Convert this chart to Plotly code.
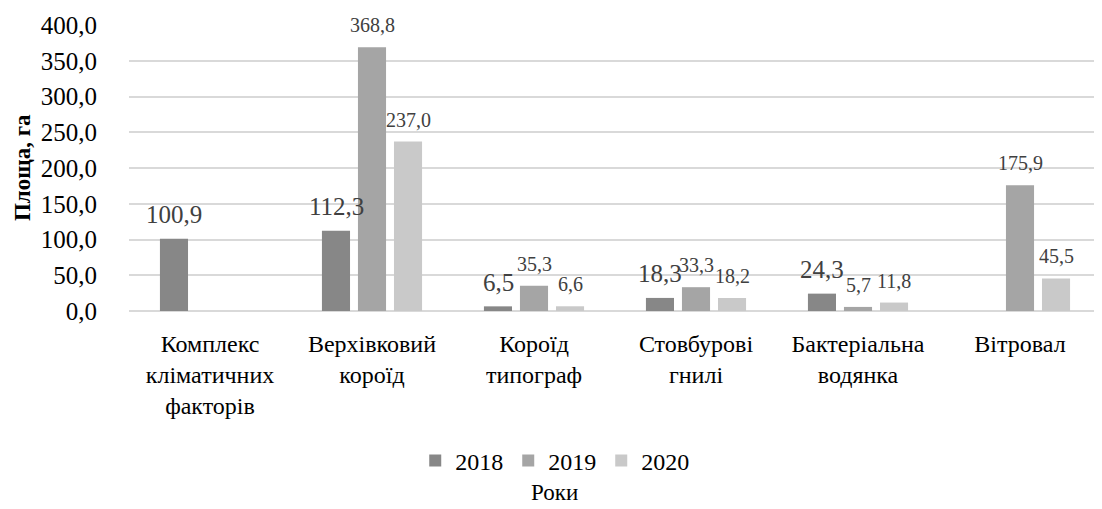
import plotly.graph_objects as go

categories = ["Комплекс<br>кліматичних<br>факторів", "Верхівковий<br>короїд", "Короїд<br>типограф",
              "Стовбурові<br>гнилі", "Бактеріальна<br>водянка", "Вітровал"]
years = ["2018", "2019", "2020"]
v2018 = [100.9, 112.3, 6.5, 18.3, 24.3, None]
v2019 = [None, 368.8, 35.3, 33.3, 5.7, 175.9]
v2020 = [None, 237.0, 6.6, 18.2, 11.8, 45.5]
colors = ["#878787", "#a5a5a5", "#c9c9c9"]
label_sizes = [25, 20, 20]
label_lift = [24, 22, 22]

FONT = "Liberation Serif, Times New Roman, serif"
series = [v2018, v2019, v2020]

fig = go.Figure()
for name, vals, col in zip(years, series, colors):
    fig.add_trace(go.Bar(
        x=categories, y=vals, name=name, marker_color=col, marker_line_width=0,
    ))

# data labels (centred over each bar of the group, a little above the bar end)
annotations = []
slot = 36  # pixel pitch of bars inside a group
for i, (vals, ls, lift) in enumerate(zip(series, label_sizes, label_lift)):
    for cat, v in zip(categories, vals):
        if v is None:
            continue
        annotations.append(dict(
            x=cat, y=v, xref="x", yref="y", text=f"{v:.1f}".replace(".", ","),
            showarrow=False, xanchor="center", yanchor="middle",
            xshift=(i - 1) * slot, yshift=lift,
            font=dict(family=FONT, size=ls, color="#404040"),
        ))

annotations += [
    dict(text="Роки", x=0.438, xref="paper", y=-0.636, yref="paper",
         yanchor="middle", xanchor="center", showarrow=False,
         font=dict(size=23, family=FONT)),
    dict(text="<b>Площа, га</b>", x=-0.110, xref="paper", y=0.5, yref="paper",
         xanchor="center", yanchor="middle", textangle=-90, showarrow=False,
         font=dict(size=23, family=FONT)),
]

# the page body has an 8px margin, so the figure is drawn 8px smaller
fig.update_layout(
    width=1094, height=501,
    margin=dict(l=121, r=1, t=17, b=198, autoexpand=False),
    paper_bgcolor="white", plot_bgcolor="white",
    separators=", ",
    barmode="group", bargap=0.333, bargroupgap=0.22,
    font=dict(family=FONT, color="#000000", size=20),
    showlegend=True,
    legend=dict(orientation="h", x=0.438, xanchor="center", y=-0.5245, yanchor="middle",
                font=dict(size=24), traceorder="normal"),
    annotations=annotations,
)
fig.update_yaxes(
    range=[0, 400], dtick=50, tickformat=".1f", automargin=False,
    showgrid=True, gridcolor="#d9d9d9", gridwidth=1.5,
    zeroline=True, zerolinecolor="#d9d9d9", zerolinewidth=1.5,
    tickfont=dict(size=25), ticklabelstandoff=31,
)
fig.update_xaxes(
    tickfont=dict(size=24), showline=False, automargin=False,
    ticks="outside", ticklen=11, tickcolor="rgba(0,0,0,0)",
)

fig.write_html("out.html")
